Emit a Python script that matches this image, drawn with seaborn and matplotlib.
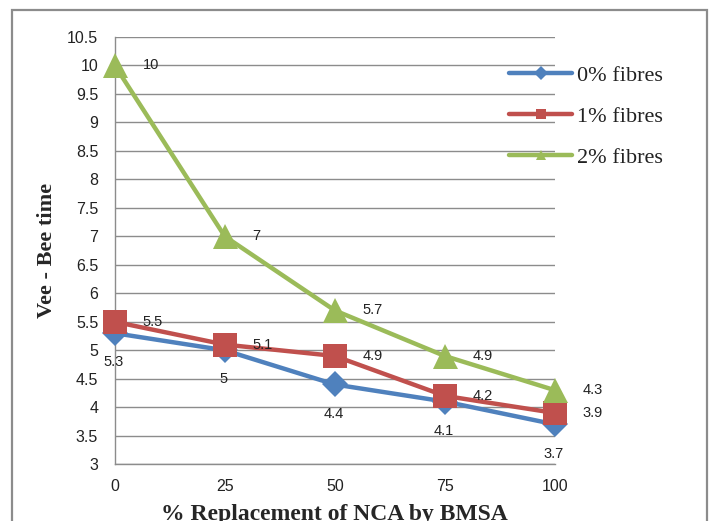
import matplotlib
matplotlib.use("Agg")
import matplotlib.pyplot as plt
from matplotlib.lines import Line2D
from matplotlib.patches import Rectangle
import seaborn as sns
import pandas as pd

# data
replacement = ["0", "25", "50", "75", "100"]
fibre_0 = [5.3, 5.0, 4.4, 4.1, 3.7]
fibre_1 = [5.5, 5.1, 4.9, 4.2, 3.9]
fibre_2 = [10.0, 7.0, 5.7, 4.9, 4.3]
series_names = ["0% fibres", "1% fibres", "2% fibres"]

colors = ["#4F81BD", "#C0504D", "#9BBB59"]
markers = ["D", "s", "^"]
msizes = [13, 17, 18]

sns.set_style("white")
plt.rcParams["font.family"] = ["Liberation Sans", "DejaVu Sans"]

fig = plt.figure(figsize=(7.13, 5.21), dpi=100)
ax = fig.add_axes([0.161, 0.109, 0.617, 0.820])

# outer chart border
fig.patches.append(Rectangle((12 / 713, -0.05), 695 / 713, 1 - 10 / 521 + 0.05,
                             transform=fig.transFigure, fill=False,
                             edgecolor="#8c8c8c", linewidth=1.6))

pos = list(range(len(replacement)))
values = [fibre_0, fibre_1, fibre_2]
for name, vals, c, m, ms in zip(series_names, values, colors, markers, msizes):
    df = pd.DataFrame({"x": pos, "y": vals})
    sns.lineplot(data=df, x="x", y="y", ax=ax, color=c, linewidth=3.2,
                 marker=m, markersize=ms, markeredgewidth=0, zorder=3,
                 clip_on=False)

# data labels
for x, v in zip(pos, fibre_0):
    ax.annotate(f"{v:g}", (x, v), xytext=(-1, -21), textcoords="offset points",
                ha="center", va="center", fontsize=10.5, color="#222222")
for vals in (fibre_1, fibre_2):
    for x, v in zip(pos, vals):
        ax.annotate(f"{v:g}", (x, v), xytext=(20, 0), textcoords="offset points",
                    ha="left", va="center", fontsize=10.5, color="#222222")

ax.set_xlim(0, 4)
ax.set_ylim(3, 10.5)
ax.set_xticks(pos)
ax.set_xticklabels(replacement)
ax.set_yticks([3 + 0.5 * i for i in range(16)])
ax.set_yticklabels([f"{3 + 0.5 * i:g}" for i in range(16)])
ax.grid(axis="y", color="#8c8c8c", linewidth=1)
ax.grid(axis="x", visible=False)
ax.set_axisbelow(True)
for s in ["top", "right"]:
    ax.spines[s].set_visible(False)
for s in ["left", "bottom"]:
    ax.spines[s].set_color("#8c8c8c")
    ax.spines[s].set_linewidth(1)
ax.tick_params(axis="both", length=4, color="#8c8c8c", labelsize=11.5,
               labelcolor="#222222", pad=7)
ax.tick_params(axis="y", length=0, pad=12)

ax.set_xlabel("% Replacement of NCA by BMSA", family=["Liberation Serif"],
              fontsize=17, fontweight="bold", labelpad=7)
ax.set_ylabel("Vee - Bee time", family=["Liberation Serif"], fontsize=16,
              fontweight="bold", labelpad=7)

handles = [Line2D([], [], color=c, linewidth=3.2, marker=m, markersize=7,
                  markeredgewidth=0) for c, m in zip(colors, markers)]
leg = fig.legend(handles, series_names, loc="upper left",
                 bbox_to_anchor=(489 / 713, 1 - 45 / 521), frameon=False,
                 handlelength=2.85, labelspacing=0.92, handletextpad=0.2,
                 prop={"family": "Liberation Serif", "size": 16})
for t in leg.get_texts():
    t.set_color("#222222")

fig.savefig("out.png", dpi=100)
